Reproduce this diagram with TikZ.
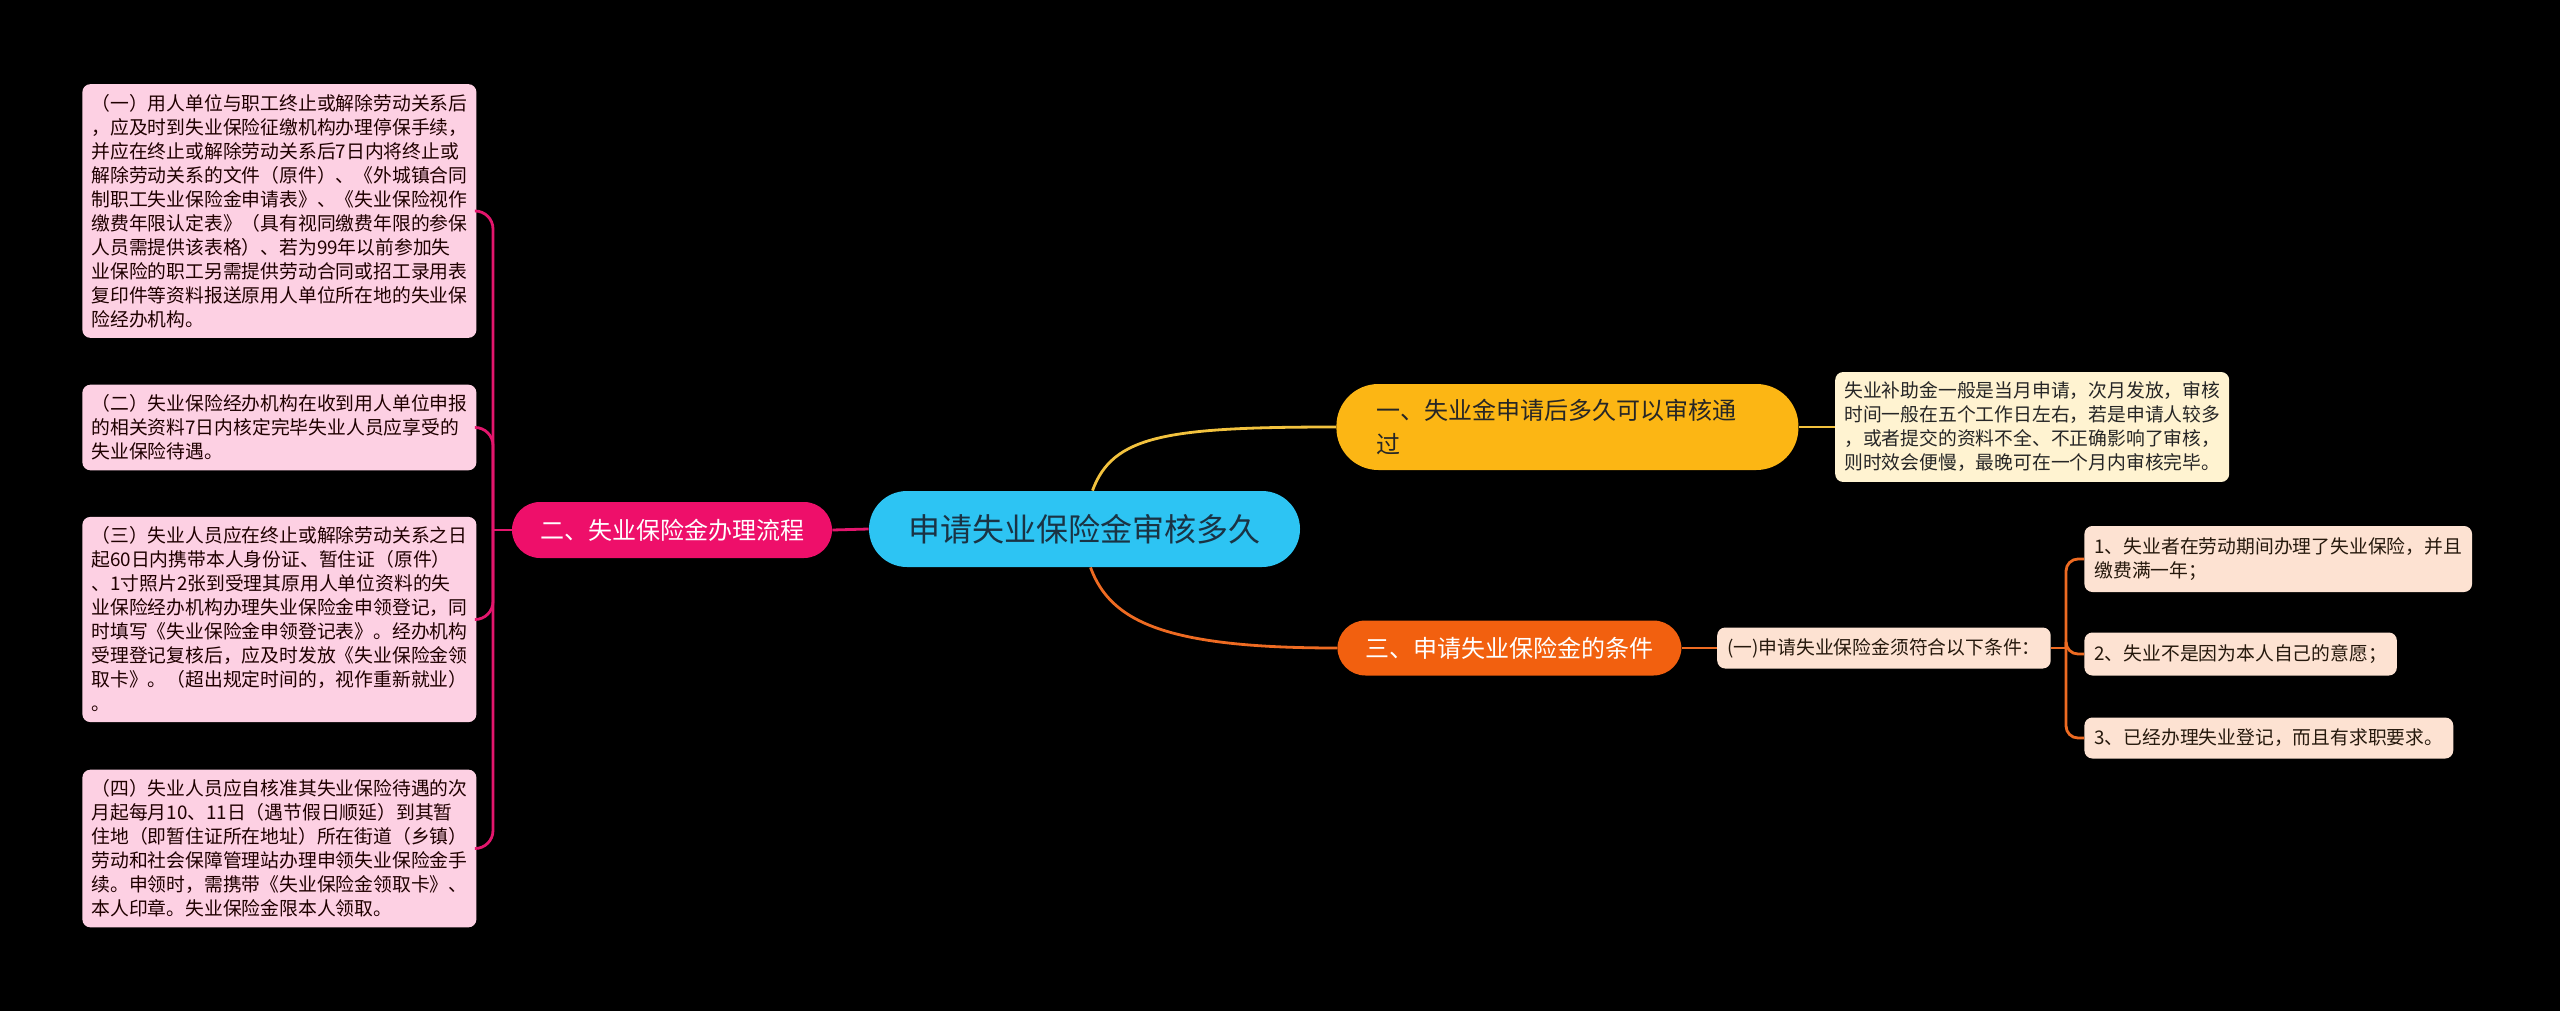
\documentclass[tikz,border=0pt]{standalone}
\usepackage{fontspec}
\setmainfont{Noto Sans CJK SC}
\usepackage{xcolor}
\usepackage{tikz}
\usetikzlibrary{positioning}

\definecolor{rootblue}{HTML}{2DC4F3}
\definecolor{rootink}{HTML}{1A3344}
\definecolor{hotpink}{HTML}{EE0F6A}
\definecolor{amber}{HTML}{FCB614}
\definecolor{tangerine}{HTML}{F2600F}
\definecolor{notepink}{HTML}{FDD0E3}
\definecolor{notecream}{HTML}{FFF3D1}
\definecolor{notepeach}{HTML}{FDE2D2}
\definecolor{pinkline}{HTML}{E3166D}
\definecolor{yellowline}{HTML}{F2C23E}
\definecolor{orangeline}{HTML}{EE6B22}

\begin{document}
\begin{tikzpicture}[
  x=0.5pt, y=-0.5pt,
  node distance=18pt,
  root/.style={
    rectangle, rounded corners=19pt, fill=rootblue, text=rootink,
    minimum width=215.5pt, minimum height=38pt,
    font=\fontsize{16}{20}\selectfont
  },
  branch/.style={
    rectangle, rounded corners=14pt, text=white,
    minimum height=28pt, font=\fontsize{12}{17}\selectfont
  },
  note/.style={
    rectangle, rounded corners=4pt, align=left,
    inner xsep=4.5pt, inner ysep=5pt,
    font=\fontsize{9.4}{12}\selectfont
  },
  pnote/.style={note, fill=notepink, text=black!80!red!60!black},
  cnote/.style={note, fill=notecream, text=black!85},
  knote/.style={note, fill=notepeach, text=black!80!brown, inner xsep=5pt},
  link/.style={line width=1.4pt},
  plink/.style={link, pinkline},
  ylink/.style={link, yellowline},
  olink/.style={link, orangeline}
]

% --- canvas ---
\fill[black] (0,0) rectangle (2560,1011);
\useasboundingbox (0,0) rectangle (2560,1011);

% --- centre ---
\node[root] (root) at (1084.5,529) {申请失业保险金审核多久};

% --- first level ---
\node[branch, fill=hotpink, minimum width=160pt] (n2) at (672,530) {二、失业保险金办理流程};
\node[branch, fill=amber, text=black!85, anchor=west, rounded corners=21pt,
      minimum height=43pt, text width=191pt, inner xsep=20pt, align=left] (n1) at (1336,427)
  {一、失业金申请后多久可以审核通\\过};
\node[branch, fill=tangerine, anchor=west, minimum width=172pt, minimum height=27.5pt] (n3) at (1337,648)
  {三、申请失业保险金的条件};

% --- left notes ---
\node[pnote, anchor=west] (p1) at (82,211)
  {（一）用人单位与职工终止或解除劳动关系后\\
   ，应及时到失业保险征缴机构办理停保手续，\\
   并应在终止或解除劳动关系后7日内将终止或\\
   解除劳动关系的文件（原件）、《外城镇合同\\
   制职工失业保险金申请表》、《失业保险视作\\
   缴费年限认定表》（具有视同缴费年限的参保\\
   人员需提供该表格）、若为99年以前参加失\\
   业保险的职工另需提供劳动合同或招工录用表\\
   复印件等资料报送原用人单位所在地的失业保\\
   险经办机构。};
\node[pnote, anchor=west] (p2) at (82,427.5)
  {（二）失业保险经办机构在收到用人单位申报\\
   的相关资料7日内核定完毕失业人员应享受的\\
   失业保险待遇。};
\node[pnote, anchor=west] (p3) at (82,619.5)
  {（三）失业人员应在终止或解除劳动关系之日\\
   起60日内携带本人身份证、暂住证（原件）\\
   、1寸照片2张到受理其原用人单位资料的失\\
   业保险经办机构办理失业保险金申领登记，同\\
   时填写《失业保险金申领登记表》。经办机构\\
   受理登记复核后，应及时发放《失业保险金领\\
   取卡》。（超出规定时间的，视作重新就业）\\
   。};
\node[pnote, anchor=west] (p4) at (82,848.5)
  {（四）失业人员应自核准其失业保险待遇的次\\
   月起每月10、11日（遇节假日顺延）到其暂\\
   住地（即暂住证所在地址）所在街道（乡镇）\\
   劳动和社会保障管理站办理申领失业保险金手\\
   续。申领时，需携带《失业保险金领取卡》、\\
   本人印章。失业保险金限本人领取。};

% --- right notes ---
\node[cnote, right=of n1] (d1)
  {失业补助金一般是当月申请，次月发放，审核\\
   时间一般在五个工作日左右，若是申请人较多\\
   ，或者提交的资料不全、不正确影响了审核，\\
   则时效会便慢，最晚可在一个月内审核完毕。};
\node[knote, right=17.5pt of n3, minimum height=20.5pt] (sub) {(一)申请失业保险金须符合以下条件：};
\node[knote, anchor=west, minimum height=33pt] (l1) at (2084,559)
  {1、失业者在劳动期间办理了失业保险，并且\\缴费满一年；};
\node[knote, anchor=west, minimum height=21.5pt] (l2) at (2084,654) {2、失业不是因为本人自己的意愿；};
\node[knote, anchor=west, minimum height=20.5pt] (l3) at (2084,738) {3、已经办理失业登记，而且有求职要求。};

% --- connectors ---
\draw[plink] (root.west) -- (n2.east);
\draw[ylink] ([xshift=4pt]root.north) .. controls +(20,-55) and +(-170,0) .. (n1.west);
\draw[olink] ([xshift=3pt]root.south) .. controls +(20,55) and +(-170,0) .. (n3.west);

\coordinate (lbar) at (493,530);
\draw[plink] (n2.west) -- (lbar);
\foreach \p in {p1,p2,p3,p4}
  \draw[plink, rounded corners=9pt] (lbar) |- (\p.east);

\draw[ylink] (n1.east) -- (d1.west);
\draw[olink] (n3.east) -- (sub.west);

\coordinate (rbar) at (2066,648);
\draw[olink] (sub.east) -- (rbar);
\foreach \l in {l1,l2,l3}
  \draw[olink, rounded corners=6pt] (rbar) |- (\l.west);

\end{tikzpicture}
\end{document}
